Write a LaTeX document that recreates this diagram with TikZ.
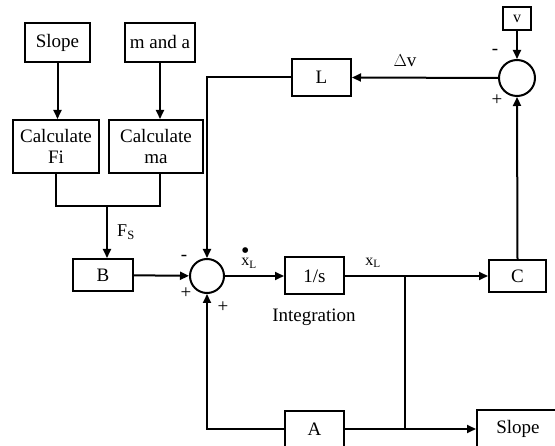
\documentclass[tikz,border=0pt]{standalone}
\usepackage{fontspec}
\setmainfont{Liberation Serif}
\usetikzlibrary{arrows.meta,positioning,calc}
\newcommand\xldot{\rlap{\kern-0.3pt\raisebox{7.5pt}{\fontsize{24}{24}\selectfont\textbullet}}x\textsubscript{L}}

\begin{document}
\begin{tikzpicture}[
  x=1pt,y=-1pt,
  every node/.style={font=\fontsize{19}{21.5}\selectfont,align=center,inner sep=0pt},
  box/.style={draw,line width=2pt,minimum width=#1,minimum height=37pt},
  box/.default=59pt,
  sum/.style={draw,circle,line width=2pt,minimum size=34pt},
  ln/.style={line width=2pt},
  arr/.style={-{Triangle[length=9pt,width=8pt]},line width=2pt},
  sgn/.style={font=\fontsize{19}{19}\selectfont},
  lbl/.style={font=\fontsize{16}{16}\selectfont}
]
\clip (0,0) rectangle (555,446);
\node[box=65pt,minimum height=39pt] (slope) at (57.5,42.5) {Slope};
\node[box=70pt,minimum height=39pt] (manda) at (160,42.5) {m and a};
\node[box=86pt,minimum height=53pt] (calcfi) at (56,146.5) {Calculate\\Fi};
\node[box=94pt,minimum height=53pt] (calcma) at (156,146.5) {Calculate\\ma};
\node[box=60pt,minimum height=32pt] (B) at (103,275) {B};
\node[sum] (sumx) at (207,276) {};
\node[box] (integ) at (314.5,276) {1/s};
\node[box=57pt,minimum height=32pt] (C) at (517.5,276) {C};
\node[box] (L) at (321.5,77.5) {L};
\node[sum,minimum size=36pt] (sumv) at (517,78) {};
\node[box=28pt,minimum height=23pt,font=\fontsize{16}{16}\selectfont] (v) at (517,18.5) {v};
\node[box,minimum height=36pt] (A) at (314.5,429) {A};
\node[box=82pt,minimum height=38pt,anchor=west] (slopeout) at (476,429) {Slope};
\coordinate (fs) at (107,206);
\coordinate (tap) at (405,276);

\draw[arr] (slope.south) -- (slope.south |- calcfi.north);
\draw[arr] (manda.south) -- (manda.south |- calcma.north);
\draw[ln] (calcfi.south) |- (fs);
\draw[ln] (manda.south |- calcma.south) |- (fs);
\draw[arr] (fs) -- (fs |- B.north);
\draw[arr] (B) -- (sumx);
\draw[arr] (sumx) -- (integ);
\draw[arr] (integ) -- (C);
\draw[ln] (tap) -- (tap |- A.east);
\draw[arr] (A.east) -- (slopeout.west);
\draw[arr] (A.west) -| (sumx.south);
\draw[arr] (C.north) -- (sumv.south);
\draw[arr] (v.south) -- (sumv.north);
\draw[arr] (sumv.west) -- (L.east);
\draw[arr] (L.west) -| (sumx.north);

\node[font=\fontsize{18}{18}\selectfont] (fslbl) at (126,232) {F\textsubscript{S}};
\node (dv) at (405,61) {$\Delta$v};
\node[lbl,anchor=base] (xdot) at (249,266) {\xldot};
\node[lbl] (xl) at (373,263) {x\textsubscript{L}};
\node (intlbl) at (314,317) {Integration};
\node[sgn] (m1) at (184,258) {-};
\node[sgn] (p1) at (186,293) {+};
\node[sgn] (p2) at (223,307) {+};
\node[sgn] (m2) at (495,52) {-};
\node[sgn] (p3) at (497,100) {+};
\end{tikzpicture}
\end{document}
